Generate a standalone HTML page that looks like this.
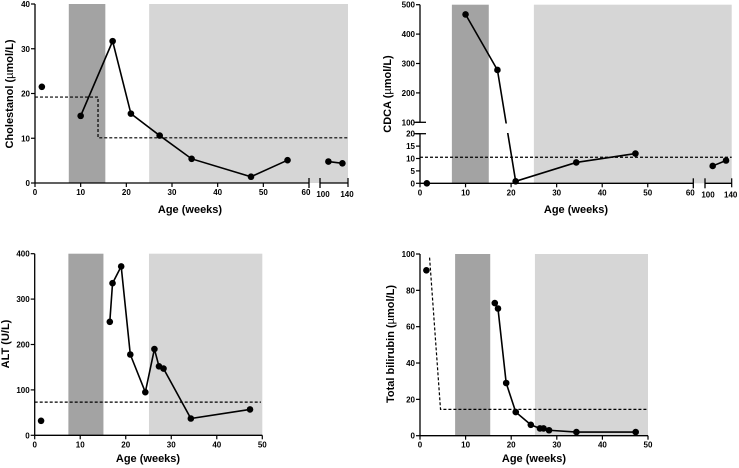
<!DOCTYPE html>
<html><head><meta charset="utf-8"><style>
html,body{margin:0;padding:0;background:#fff}
svg{display:block;font-family:"Liberation Sans",Arial,sans-serif;font-weight:bold}
</style></head><body>
<svg id="c" width="739" height="468" viewBox="0 0 739 468"></svg>
<script>
// ---- data ----
const cholWeeks=[1.5,10,17,21,27.3,34.3,47.3,55.3];
const cholVals=[21.5,15,31.7,15.5,10.6,5.4,1.4,5.1];
const cholLateWeeks=[112,132];
const cholLateVals=[4.8,4.4];
const cholRefX=[0,13.8,13.8,140];
const cholRefY=[19.2,19.2,10.1,10.1];
const cdcaWeeks=[1.5,10,17,21,34.3,47.3];
const cdcaVals=[0,467,278,0.8,8.4,12];
const cdcaLateWeeks=[111.5,131.5];
const cdcaLateVals=[7,9.2];
const cdcaRef=10.5;
const altWeeks=[1.4,16.5,17.1,19,21,24.3,26.3,27.3,28.3,34.3,47.3];
const altVals=[32,250,335,372,178,95,190,152,147,37,57];
const altRef=73;
const biliWeeks=[1.4,16.4,17.1,18.9,21,24.3,26.3,27.1,28.3,34.3,47.3];
const biliVals=[91,73,70,29,13,6,4,4,3,2,2];
const biliRefX=[2.1,4.5,50];
const biliRefY=[98,14.5,14.5];
const cholTicks=[0,10,20,30,40];
const altTicks=[0,100,200,300,400];
const biliTicks=[0,20,40,60,80,100];
const xTicks=[0,10,20,30,40,50,60];
const xTicks50=[0,10,20,30,40,50];
const cdcaUpperTicks=[100,200,300,400,500];
const cdcaLowerTicks=[0,5,10,15,20];

const svg=document.getElementById('c');
const NS='http://www.w3.org/2000/svg';
function el(tag,attrs,parent){const e=document.createElementNS(NS,tag);for(const k in attrs)e.setAttribute(k,attrs[k]);(parent||svg).appendChild(e);return e;}
function txt(s,attrs,parent){const t=el('text',attrs,parent);t.textContent=s;return t;}

function panel(o){
  const g=el('g',{});
  
  
  const X=w=>w<=60||!o.x2?o.x0+w*o.kx:o.x2a+(w-100)*(o.x2b-o.x2a)/40;
  // shades
  const d=el('rect',{x:X(o.dark[0]),y:o.top,width:X(o.dark[1])-X(o.dark[0]),height:o.Y(0)-o.top,fill:'#a3a3a3'},g);
  
  
  const lx=X(o.light0), rx=o.x2?o.x2b:X(50);
  const l=el('rect',{x:lx,y:o.top,width:rx-lx,height:o.Y(0)-o.top,fill:'#d6d6d6'},g);
  
  
  return {g,X};
}
function series(g,X,Y,ws,vs,lineFrom,name){
  const pts=ws.map((w,i)=>[X(w),Y(vs[i])]);
  const lp=pts.slice(lineFrom);
  if(lp.length>1){const p=el('polyline',{points:lp.map(p=>p.join(',')).join(' '),fill:'none',stroke:'#000','stroke-width':1.6},g);
    }
  pts.forEach(p=>{const c=el('circle',{cx:p[0],cy:p[1],r:3.3,fill:'#000'},g);
    });
}
function dash(g,pts,name){const p=el('polyline',{points:pts.map(p=>p.join(',')).join(' '),fill:'none',stroke:'#000','stroke-width':1.2,'stroke-dasharray':'3,2'},g);
  }
function yaxis(g,x,ticks,Y,yTop,yBot){
  el('line',{x1:x,y1:yTop,x2:x,y2:yBot,stroke:'#000','stroke-width':1.3},g);
  ticks.forEach(t=>{el('line',{x1:x-4,y1:Y(t),x2:x,y2:Y(t),stroke:'#000','stroke-width':1.2},g);
    const l=txt(t,{x:x-5,y:Y(t)+3,'font-size':8,'text-anchor':'end'},g);
    });
}
function xaxis(g,X,ticks,y,xa,xb){
  el('line',{x1:xa,y1:y,x2:xb,y2:y,stroke:'#000','stroke-width':1.3},g);
  ticks.forEach(t=>{el('line',{x1:X(t),y1:y,x2:X(t),y2:y+4,stroke:'#000','stroke-width':1.2},g);
    const l=txt(t,{x:X(t),y:y+12,'font-size':8,'text-anchor':'middle'},g);
    });
}
function titles(g,xt,xx,xy,yt,yx,yy){
  const a=txt(xt,{x:xx,y:xy,'font-size':11,'text-anchor':'middle'},g);
  
  const b=txt('',{x:0,y:0,'font-size':11,'text-anchor':'middle',transform:`translate(${yx},${yy}) rotate(-90)`},g);
  b.innerHTML=yt;
  
}
function brokenX(g,X,o,y){
  el('line',{x1:o.x0,y1:y,x2:X(60),y2:y,stroke:'#000','stroke-width':1.3},g);
  el('line',{x1:o.x2a,y1:y,x2:o.x2b,y2:y,stroke:'#000','stroke-width':1.3},g);
  el('line',{x1:X(60),y1:y-5,x2:X(60),y2:y+5,stroke:'#000','stroke-width':1.3},g);
  el('line',{x1:o.x2a,y1:y-5,x2:o.x2a,y2:y+5,stroke:'#000','stroke-width':1.3},g);
  el('line',{x1:o.x2b,y1:y-5,x2:o.x2b,y2:y+4,stroke:'#000','stroke-width':1.2},g);
  xTicks.slice(0,6).forEach(t=>{el('line',{x1:X(t),y1:y,x2:X(t),y2:y+4,stroke:'#000','stroke-width':1.2},g);});
  xTicks.forEach(t=>{const l=txt(t,{x:X(t)-(t==60?3:0),y:y+12,'font-size':8,'text-anchor':'middle'},g);
    });
  [100,140].forEach(t=>{const l=txt(t,{x:X(t)+(t==100?3:-1),y:y+14,'font-size':8,'text-anchor':'middle'},g);
    });
}

// ---- Panel 1: Cholestanol ----
{const o={name:'cholestanol-chart',x0:35,kx:(309-35)/60,x2:true,x2a:320,x2b:348,top:4,dark:[7.4,15.4],light0:25,Y:v=>183-v*(179/40)};
 const {g,X}=panel(o);
 dash(g,cholRefX.map((w,i)=>[w>60?348:X(w),o.Y(cholRefY[i])]),'reference-line');
 series(g,X,o.Y,cholWeeks,cholVals,1,'cholestanol');
 series(g,X,o.Y,cholLateWeeks,cholLateVals,0,'cholestanol-late');
 yaxis(g,35,cholTicks,o.Y,4,183);
 brokenX(g,X,o,183);
 titles(g,'Age (weeks)',190,213,'Cholestanol (<tspan font-weight="normal">µ</tspan>mol/L)',13,94);}

// ---- Panel 2: CDCA ----
{const YL=v=>183.3-v*(49.6/20), YU=v=>122.3-(v-100)*(117.6/400);
 const Y=v=>v>=100?YU(v):YL(v);
 const o={name:'cdca-chart',x0:420,kx:(693.3-420)/60,x2:true,x2a:705,x2b:731.7,top:4.7,dark:[7,15.1],light0:25,Y};
 const {g,X}=panel(o);
 dash(g,[[X(0),Y(cdcaRef)],[731.7,Y(cdcaRef)]],'reference-line');
 series(g,X,Y,cdcaWeeks,cdcaVals,1,'cdca');
 series(g,X,Y,cdcaLateWeeks,cdcaLateVals,0,'cdca-late');
 el('rect',{x:495,y:123.5,width:20,height:9.5,fill:'#fff'},g);
 el('line',{x1:420,y1:4.7,x2:420,y2:122.3,stroke:'#000','stroke-width':1.3},g);
 el('line',{x1:420,y1:133.7,x2:420,y2:183.3,stroke:'#000','stroke-width':1.3},g);
 el('line',{x1:414,y1:122.3,x2:426,y2:122.3,stroke:'#000','stroke-width':1.3},g);
 el('line',{x1:414,y1:133.7,x2:426,y2:133.7,stroke:'#000','stroke-width':1.3},g);
 cdcaUpperTicks.forEach(t=>{el('line',{x1:416,y1:YU(t),x2:420,y2:YU(t),stroke:'#000','stroke-width':1.2},g);
   const l=txt(t,{x:415,y:YU(t)+3,'font-size':8,'text-anchor':'end'},g);});
 cdcaLowerTicks.forEach(t=>{el('line',{x1:416,y1:YL(t),x2:420,y2:YL(t),stroke:'#000','stroke-width':1.2},g);
   const l=txt(t,{x:415,y:YL(t)+3,'font-size':8,'text-anchor':'end'},g);});
 brokenX(g,X,o,183.3);
 titles(g,'Age (weeks)',576,213,'CDCA (<tspan font-weight="normal">µ</tspan>mol/L)',391,94);}

// ---- Panel 3: ALT ----
{const Y=v=>435.3-v*(181.6/400);
 const o={name:'alt-chart',x0:34.7,kx:(262.3-34.7)/50,top:253.7,dark:[7.4,15.1],light0:25.1,Y};
 const {g,X}=panel(o);
 dash(g,[[X(0),Y(altRef)],[X(49.7),Y(altRef)]],'reference-line');
 series(g,X,Y,altWeeks,altVals,1,'alt');
 yaxis(g,34.7,altTicks,Y,253.7,435.3);
 xaxis(g,X,xTicks50,435.3,34.7,262.3);
 titles(g,'Age (weeks)',148,462,'ALT (U/L)',9,344);}

// ---- Panel 4: Bilirubin ----
{const Y=v=>435.7-v*(181.7/100);
 const o={name:'bilirubin-chart',x0:420,kx:(648-420)/50,top:254,dark:[7.7,15.4],light0:25.2,Y};
 const {g,X}=panel(o);
 dash(g,biliRefX.map((w,i)=>[X(w),Y(biliRefY[i])]),'reference-line');
 series(g,X,Y,biliWeeks,biliVals,1,'bilirubin');
 yaxis(g,420,biliTicks,Y,254,435.7);
 xaxis(g,X,xTicks50,435.7,420,648);
 titles(g,'Age (weeks)',534,462,'Total bilirubin (<tspan font-weight="normal">µ</tspan>mol/L)',394,344);}
</script>
</body></html>
